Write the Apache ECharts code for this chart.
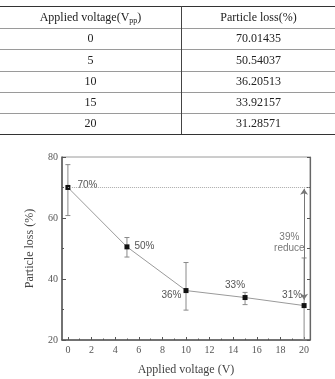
<!DOCTYPE html>
<html><head><meta charset="utf-8">
<script src="https://cdn.jsdelivr.net/npm/echarts@6/dist/echarts.min.js"></script>
<style>
html,body{margin:0;padding:0;background:#fff;}
#wrap{position:relative;width:335px;height:379px;overflow:hidden;background:#fff;}
#chart{position:absolute;left:0;top:0;width:335px;height:379px;}
#table{position:absolute;left:0;top:0;width:335px;height:140px;font-family:"Liberation Serif","Times New Roman",serif;font-size:12px;color:#222;}
.hl{position:absolute;left:0;width:335px;}
.cell{position:absolute;text-align:center;white-space:nowrap;}
sub{font-size:8px;vertical-align:-2px;line-height:0;}
</style></head>
<body><div id="wrap"><div id="chart"></div><div id="table"></div></div>
<script>
// ---- data ----
const voltages = [0, 5, 10, 15, 20];
const particleLoss = [70.01435, 50.54037, 36.20513, 33.92157, 31.28571];
const tableLossText = ['70.01435', '50.54037', '36.20513', '33.92157', '31.28571'];
const errLow = [60.8, 47.2, 29.8, 31.6, 20];
const errHigh = [77.5, 53.6, 45.4, 35.6, 46.9];
const pointLabels = ['70%', '50%', '36%', '33%', '31%'];
const xLabelValues = [0, 2, 4, 6, 8, 10, 12, 14, 16, 18, 20];
const xMinorTickValues = [1, 3, 5, 7, 9, 11, 13, 15, 17, 19];
const referenceLevel = 70;
const arrowFrom = 69.6;
const arrowTo = 33.2;
const reduceText = '39%\nreduce';
const reducePos = [18.75, 51.8];
const tableHeaders = ['Applied voltage(V<sub>pp</sub>)', 'Particle loss(%)'];

// ---- table ----
(function(){
  const t = document.getElementById('table');
  const lines = [6, 28, 49, 71, 92, 113, 134];
  lines.forEach((y, i) => {
    const d = document.createElement('div');
    d.className = 'hl';
    const edge = (i === 0 || i === lines.length - 1);
    d.style.top = (edge ? y - 0.5 : y) + 'px';
    d.style.height = edge ? '1.5px' : '1px';
    d.style.background = edge ? '#333' : '#9a9a9a';
    t.appendChild(d);
  });
  const v = document.createElement('div');
  v.style.cssText = 'position:absolute;left:181px;top:6px;width:1px;height:128px;background:#444;';
  t.appendChild(v);
  const rows = [tableHeaders].concat(voltages.map((x, i) => [String(x), tableLossText[i]]));
  rows.forEach((r, i) => {
    const top = lines[i], h = lines[i + 1] - lines[i];
    const c1 = document.createElement('div');
    c1.className = 'cell';
    c1.style.cssText += 'left:0;width:181px;top:' + top + 'px;height:' + h + 'px;line-height:' + h + 'px;';
    c1.innerHTML = r[0];
    const c2 = document.createElement('div');
    c2.className = 'cell';
    c2.style.cssText += 'left:182px;width:153px;top:' + top + 'px;height:' + h + 'px;line-height:' + h + 'px;';
    c2.innerHTML = r[1];
    t.appendChild(c1); t.appendChild(c2);
  });
})();

// ---- chart ----
const chart = echarts.init(document.getElementById('chart'), null, {renderer: 'canvas'});
const serif = '"Liberation Serif","Times New Roman",serif';
const sans = '"Liberation Sans",Arial,sans-serif';
const labelPlacement = [
  {position: 'right', distance: 7, offset: [0, -2]},
  {position: 'right', distance: 5, offset: [0, -1]},
  {position: 'left', distance: 2, offset: [0, 5]},
  {position: 'top', distance: 5, offset: [-10, 0]},
  {position: 'top', distance: 3, offset: [-12, 0]}
];
const lineData = voltages.map((x, i) => ({
  value: [x, particleLoss[i]],
  label: Object.assign({show: true, formatter: pointLabels[i]}, labelPlacement[i])
}));
const errData = voltages.map((x, i) => [x, errLow[i], errHigh[i]]);

const option = {
  animation: false,
  grid: {left: 62, right: 25, top: 157, bottom: 39, show: true, borderColor: '#9a9a9a', borderWidth: 1, backgroundColor: 'transparent'},
  xAxis: [{
    type: 'value', min: -0.5, max: 20.5, position: 'bottom',
    name: 'Applied voltage (V)', nameLocation: 'middle', nameGap: 24,
    nameTextStyle: {fontFamily: serif, fontSize: 12, color: '#444'},
    axisLine: {show: true, onZero: false, lineStyle: {color: '#555', width: 1.5}},
    axisTick: {show: true, inside: true, length: 3, customValues: xLabelValues, lineStyle: {color: '#555'}},
    axisLabel: {customValues: xLabelValues, margin: 5, fontFamily: serif, fontSize: 10, color: '#555'},
    splitLine: {show: false}
  }, {
    type: 'value', min: -0.5, max: 20.5, position: 'bottom',
    axisLine: {show: false, onZero: false},
    axisTick: {show: true, inside: true, length: 1.5, customValues: xMinorTickValues, lineStyle: {color: '#555'}},
    axisLabel: {show: false},
    splitLine: {show: false}
  }],
  yAxis: [{
    type: 'value', min: 20, max: 80, interval: 20, position: 'left',
    name: 'Particle loss (%)', nameLocation: 'middle', nameGap: 26,
    nameTextStyle: {fontFamily: serif, fontSize: 12, color: '#444'},
    axisLine: {show: true, onZero: false, lineStyle: {color: '#555', width: 1.5}},
    axisTick: {show: true, inside: true, length: 4, lineStyle: {color: '#555'}},
    minorTick: {show: true, splitNumber: 2, length: 2, lineStyle: {color: '#555'}},
    axisLabel: {margin: 4, fontFamily: serif, fontSize: 10, color: '#555'},
    splitLine: {show: false}
  }, {
    type: 'value', min: 20, max: 80, interval: 20, position: 'right',
    axisLine: {show: true, onZero: false, lineStyle: {color: '#666', width: 1.2}},
    axisTick: {show: true, inside: true, length: 3, lineStyle: {color: '#555'}},
    minorTick: {show: true, splitNumber: 2, length: 3, lineStyle: {color: '#555'}},
    axisLabel: {show: false},
    splitLine: {show: false}
  }],
  series: [{
    type: 'custom',
    xAxisIndex: 0, yAxisIndex: 0,
    data: errData,
    clip: true,
    z: 1,
    renderItem: function (params, api) {
      const x = api.value(0), lo = api.value(1), hi = api.value(2);
      const p1 = api.coord([x, lo]), p2 = api.coord([x, hi]);
      const w = 2.5;
      const st = {stroke: '#8a8a8a', lineWidth: 1};
      return {type: 'group', children: [
        {type: 'line', shape: {x1: p1[0], y1: p1[1], x2: p2[0], y2: p2[1]}, style: st},
        {type: 'line', shape: {x1: p1[0] - w, y1: p1[1], x2: p1[0] + w, y2: p1[1]}, style: st},
        {type: 'line', shape: {x1: p2[0] - w, y1: p2[1], x2: p2[0] + w, y2: p2[1]}, style: st}
      ]};
    }
  }, {
    type: 'line',
    xAxisIndex: 0, yAxisIndex: 0,
    data: lineData,
    z: 3,
    symbol: 'rect', symbolSize: 5,
    itemStyle: {color: '#111'},
    lineStyle: {color: '#9a9a9a', width: 1},
    label: {fontFamily: sans, fontSize: 10, color: '#555'},
    markLine: {
      silent: true,
      label: {show: false},
      symbol: ['arrow', 'arrow'],
      symbolSize: 6,
      data: [
        [{coord: [voltages[0], referenceLevel], symbol: 'none', lineStyle: {type: 'dotted', color: '#aaa', width: 1}},
         {coord: [20.5, referenceLevel], symbol: 'none'}],
        [{coord: [voltages[4], arrowFrom], lineStyle: {type: 'solid', color: '#777', width: 1}},
         {coord: [voltages[4], arrowTo]}]
      ]
    }
  }, {
    type: 'scatter',
    xAxisIndex: 0, yAxisIndex: 0,
    data: [reducePos],
    symbolSize: 0,
    silent: true,
    label: {show: true, position: 'inside', formatter: reduceText, fontFamily: sans, fontSize: 10, lineHeight: 11, color: '#555', align: 'center'}
  }]
};
chart.setOption(option);
</script>
</body></html>
